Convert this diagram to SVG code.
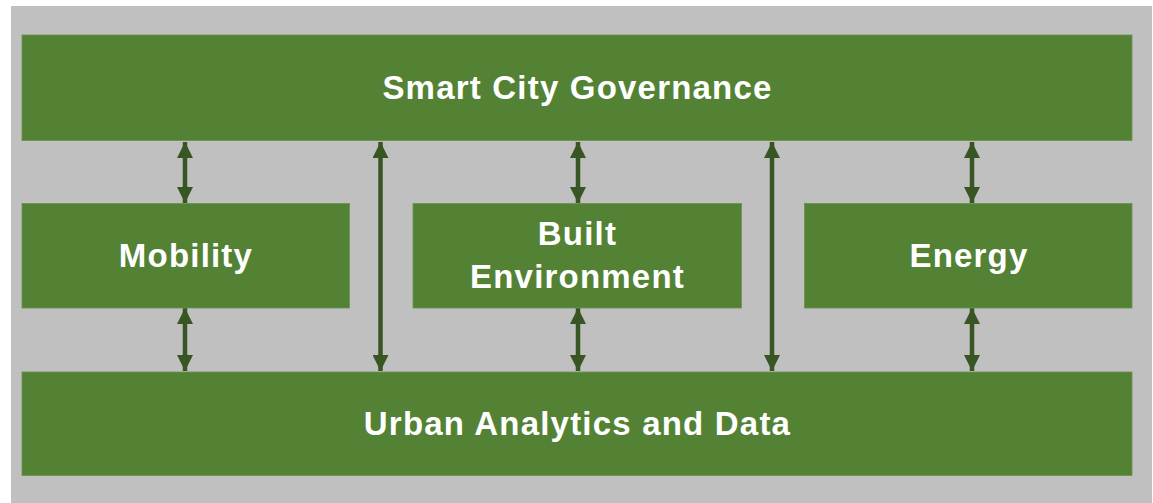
<svg xmlns="http://www.w3.org/2000/svg" width="1153" height="503" viewBox="0 0 1153 503">
<style>
.box{fill:#548235;stroke:#6a9150;stroke-width:0.8}
.lbl{fill:#ffffff;font-family:"Liberation Sans",Arial,sans-serif;font-weight:bold;font-size:33px;letter-spacing:1.2px;text-anchor:middle}
.con{stroke:#375623;stroke-width:4.5;fill:none;marker-start:url(#ah);marker-end:url(#ah)}
</style>
<defs>
<marker id="ah" viewBox="0 0 10 10" refX="10" refY="5" markerUnits="userSpaceOnUse" markerWidth="17" markerHeight="16" orient="auto-start-reverse">
<path d="M0,0 L10,5 L0,10 Z" fill="#375623"/>
</marker>
</defs>
<rect x="0" y="0" width="1153" height="503" fill="#ffffff"/>
<rect x="11" y="6" width="1141" height="497" fill="#c0c0c0"/>
<g id="connectors">
<line class="con" x1="185" y1="142" x2="185" y2="203"/>
<line class="con" x1="578" y1="142" x2="578" y2="203"/>
<line class="con" x1="972" y1="142" x2="972" y2="203"/>
<line class="con" x1="185" y1="308" x2="185" y2="371"/>
<line class="con" x1="578" y1="308" x2="578" y2="371"/>
<line class="con" x1="972" y1="308" x2="972" y2="371"/>
<line class="con" x1="380.5" y1="142" x2="380.5" y2="371"/>
<line class="con" x1="772" y1="142" x2="772" y2="371"/>
</g>
<g id="governance">
<rect class="box" x="22" y="35" width="1110" height="105.5"/>
<text class="lbl" x="577.5" y="99">Smart City Governance</text>
</g>
<g id="mobility">
<rect class="box" x="22" y="203.5" width="327.5" height="104.5"/>
<text class="lbl" x="186" y="267">Mobility</text>
</g>
<g id="built-environment">
<rect class="box" x="413" y="203.5" width="328.5" height="104.5"/>
<text class="lbl" x="577.5" y="245">Built</text>
<text class="lbl" x="577.5" y="288">Environment</text>
</g>
<g id="energy">
<rect class="box" x="804.5" y="203.5" width="327.5" height="104.5"/>
<text class="lbl" x="969" y="267">Energy</text>
</g>
<g id="analytics">
<rect class="box" x="22" y="372" width="1110" height="103.5"/>
<text class="lbl" x="577.5" y="435">Urban Analytics and Data</text>
</g>
</svg>
